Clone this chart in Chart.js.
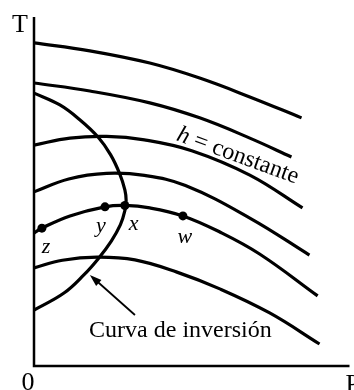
<!DOCTYPE html>
<html>
<head>
<meta charset="utf-8">
<script src="https://cdn.jsdelivr.net/npm/chart.js@4.4.0/dist/chart.umd.min.js"></script>
<style>
  html, body { margin: 0; padding: 0; background: #fff; }
  #wrap { width: 354px; height: 390px; }
</style>
</head>
<body>
<div id="wrap"><canvas id="chart" width="354" height="390"></canvas></div>
<script>
// axis ranges (P horizontal, T vertical), arbitrary units
var P_MAX = 10;
var T_MAX = 10;

// lines of constant enthalpy, [P, T]
var h1 = [[0, 9.26], [1.77, 9.03], [3.67, 8.68], [5.25, 8.25], [6.84, 7.71], [8.48, 7.11]];
var h2 = [[0, 8.11], [1.77, 7.88], [3.67, 7.54], [5.25, 7.11], [6.84, 6.53], [8.16, 5.99]];
var h3 = [[0, 6.33], [1.14, 6.53], [2.3, 6.58], [3.5, 6.48], [5.0, 6.17], [6.84, 5.47], [8.51, 4.53]];
var h4 = [[0, 4.99], [1.1, 5.36], [2.3, 5.52], [3.5, 5.46], [4.8, 5.17], [6.84, 4.24], [8.73, 3.18]];
var h5 = [[0, 3.81], [0.25, 3.95], [1.14, 4.30], [2.25, 4.56], [2.88, 4.60], [3.67, 4.53], [4.72, 4.30], [5.89, 3.84], [7.15, 3.21], [8.99, 2.01]];
var h6 = [[0, 2.81], [0.9, 3.03], [2.0, 3.12], [3.2, 3.04], [4.53, 2.69], [5.89, 2.21], [7.47, 1.52], [9.05, 0.63]];

// inversion curve
var inversion = [[0, 7.82], [0.82, 7.48], [1.46, 7.05], [2.03, 6.56], [2.43, 6.05], [2.72, 5.50], [2.88, 5.05],
  [2.92, 4.75], [2.88, 4.45], [2.74, 4.05], [2.45, 3.58], [2.05, 3.09], [1.58, 2.61], [0.95, 2.09], [0, 1.60]];

// marked states on one isenthalp
var stateNames = ['z', 'y', 'x', 'w'];
var stateP = [0.25, 2.25, 2.88, 4.72];
var stateT = [3.95, 4.56, 4.60, 4.30];
var stateLabelP = [0.38, 2.12, 3.16, 4.78];
var stateLabelT = [3.41, 4.01, 4.07, 3.70];

// annotation text
var hLabel = { text: 'constante', p: 6.39, t: 5.85 };
var invLabel = { text: 'Curva de inversión', p: 4.64, t: 0.83 };
var arrowFrom = [3.20, 1.46];
var arrowTo = [1.77, 2.61];

var serif = '"Liberation Serif", "Times New Roman", serif';

function toPoints(arr) {
    return arr.map(function (d) { return { x: d[0], y: d[1] }; });
}

function curveSet(arr) {
    return {
        data: toPoints(arr),
        showLine: true,
        borderColor: '#000',
        borderWidth: 3.2,
        pointRadius: 0,
        fill: false,
        tension: 0.4
    };
}

var datasets = [h1, h2, h3, h4, h5, h6, inversion].map(curveSet);
datasets.push({
    data: stateP.map(function (p, i) { return { x: p, y: stateT[i] }; }),
    showLine: false,
    pointRadius: 4.5,
    pointBackgroundColor: '#000',
    pointBorderColor: '#000',
    pointBorderWidth: 0
});

var decor = {
    id: 'decor',
    afterDraw: function (chart) {
        var ctx = chart.ctx;
        var a = chart.chartArea;
        var xs = chart.scales.x, ys = chart.scales.y;
        ctx.save();
        // axes
        ctx.strokeStyle = '#000';
        ctx.lineWidth = 2.5;
        ctx.beginPath();
        ctx.moveTo(a.left, a.top);
        ctx.lineTo(a.left, a.bottom);
        ctx.lineTo(a.right, a.bottom);
        ctx.stroke();

        ctx.fillStyle = '#000';
        ctx.font = '26px ' + serif;
        ctx.textAlign = 'center';
        ctx.textBaseline = 'alphabetic';
        ctx.fillText('T', a.left - 14, a.top + 15);
        ctx.fillText('0', a.left - 6, a.bottom + 24);
        ctx.textAlign = 'left';
        ctx.fillText('P', a.right - 4, a.bottom + 26);

        // state labels
        ctx.font = 'italic 22px ' + serif;
        ctx.textAlign = 'center';
        ctx.textBaseline = 'middle';
        stateNames.forEach(function (n, i) {
            ctx.fillText(n, xs.getPixelForValue(stateLabelP[i]), ys.getPixelForValue(stateLabelT[i]));
        });

        // h = constante, rotated along the lines
        ctx.save();
        ctx.translate(xs.getPixelForValue(hLabel.p), ys.getPixelForValue(hLabel.t));
        ctx.rotate(20 * Math.PI / 180);
        ctx.textBaseline = 'alphabetic';
        ctx.font = 'italic 24px ' + serif;
        var wh = ctx.measureText('h').width;
        ctx.font = '24px ' + serif;
        var rest = ' = ' + hLabel.text;
        var wr = ctx.measureText(rest).width;
        var x0 = -(wh + wr) / 2;
        ctx.textAlign = 'left';
        ctx.font = 'italic 24px ' + serif;
        ctx.fillText('h', x0, 0);
        ctx.font = '24px ' + serif;
        ctx.fillText(rest, x0 + wh, 0);
        ctx.restore();

        // inversion label and arrow
        ctx.font = '24px ' + serif;
        ctx.textAlign = 'center';
        ctx.textBaseline = 'alphabetic';
        ctx.fillText(invLabel.text, xs.getPixelForValue(invLabel.p), ys.getPixelForValue(invLabel.t));

        var x1 = xs.getPixelForValue(arrowFrom[0]), y1 = ys.getPixelForValue(arrowFrom[1]);
        var x2 = xs.getPixelForValue(arrowTo[0]), y2 = ys.getPixelForValue(arrowTo[1]);
        var ang = Math.atan2(y2 - y1, x2 - x1);
        ctx.lineWidth = 1.8;
        ctx.beginPath();
        ctx.moveTo(x1, y1);
        ctx.lineTo(x2 - 8 * Math.cos(ang), y2 - 8 * Math.sin(ang));
        ctx.stroke();
        ctx.beginPath();
        ctx.moveTo(x2, y2);
        ctx.lineTo(x2 - 12 * Math.cos(ang) + 4 * Math.sin(ang), y2 - 12 * Math.sin(ang) - 4 * Math.cos(ang));
        ctx.lineTo(x2 - 12 * Math.cos(ang) - 4 * Math.sin(ang), y2 - 12 * Math.sin(ang) + 4 * Math.cos(ang));
        ctx.closePath();
        ctx.fill();
        ctx.restore();
    }
};

new Chart(document.getElementById('chart'), {
    type: 'scatter',
    data: { datasets: datasets },
    options: {
        responsive: false,
        animation: false,
        devicePixelRatio: 1,
        layout: { padding: { left: 34, right: 4, top: 17, bottom: 24 } },
        scales: {
            x: { type: 'linear', min: 0, max: P_MAX, display: false },
            y: { type: 'linear', min: 0, max: T_MAX, display: false }
        },
        plugins: {
            legend: { display: false },
            tooltip: { enabled: false }
        }
    },
    plugins: [decor]
});
</script>
</body>
</html>
